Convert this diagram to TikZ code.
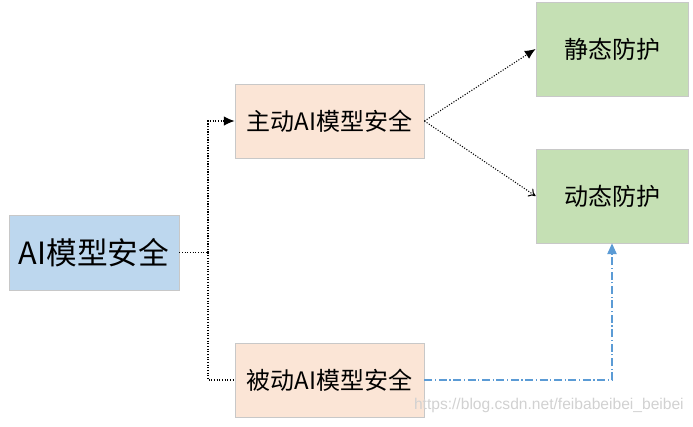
\documentclass[tikz,border=0pt]{standalone}
\usepackage{fontspec}
\setmainfont{Noto Sans CJK SC}
\newfontfamily\markfont{Liberation Sans}
\usepackage{xcolor}
\usetikzlibrary{arrows.meta}

\definecolor{rootblue}{RGB}{189,215,238}
\definecolor{midpeach}{RGB}{251,229,214}
\definecolor{leafgreen}{RGB}{197,224,180}
\definecolor{boxline}{RGB}{200,200,200}
\definecolor{linkblue}{RGB}{91,155,213}

\begin{document}
\begin{tikzpicture}[x=0.75pt,y=0.75pt,yscale=-1,xscale=1,
  box/.style={draw=boxline, line width=0.6pt, inner sep=0pt, align=center},
  rootbox/.style={box, fill=rootblue, minimum width=127.5pt, minimum height=56.25pt, font=\fontsize{23pt}{27pt}\selectfont},
  midbox/.style={box, fill=midpeach, minimum width=141.75pt, minimum height=55.5pt, font=\fontsize{18pt}{22pt}\selectfont},
  leafbox/.style={box, fill=leafgreen, minimum width=114pt, minimum height=70.5pt, font=\fontsize{18pt}{22pt}\selectfont},
  dotlink/.style={draw=black, line width=0.8pt, dash pattern=on 0.8pt off 1.2pt},
  dashlink/.style={draw=linkblue, line width=0.9pt, dash pattern=on 6pt off 2pt on 0.8pt off 2pt}
]
%set diagram size
\useasboundingbox (0,0) rectangle (693,426);

%Shape: Rectangle [root]
\node [rootbox] (root) at (94,252.5) {AI模型安全};
%Shape: Rectangle [active]
\node [midbox] (active) at (329.5,121) {主动AI模型安全};
%Shape: Rectangle [passive]
\node [midbox] (passive) at (329.5,380) {被动AI模型安全};
%Shape: Rectangle [static]
\node [leafbox] (static) at (612,49) {静态防护};
%Shape: Rectangle [dynamic]
\node [leafbox] (dynamic) at (612,196) {动态防护};

%Fork point
\coordinate (fork) at (208,252.5);

%Connectors
\draw [dotlink] (root.east) -- (fork);
\draw [dotlink, -{Latex[length=8pt,width=7pt]}] (fork) |- (active.west);
\draw [dotlink] (fork) |- (passive.west);
\draw [dotlink, -{Latex[length=8pt,width=7pt]}] (active.east) -- (static.west);
\draw [dotlink, -{To[length=5pt,width=7pt]}] (active.east) -- (dynamic.west);
\draw [dashlink, -{Triangle[length=8pt,width=7pt]}] (passive.east) -| (dynamic.south);

% Text Node
\node [anchor=south east, inner sep=0pt, text=black!18, font=\markfont\fontsize{11.7pt}{14pt}\selectfont] (mark) at (684,413) {https://blog.csdn.net/feibabeibei\_beibei};

\end{tikzpicture}
\end{document}
